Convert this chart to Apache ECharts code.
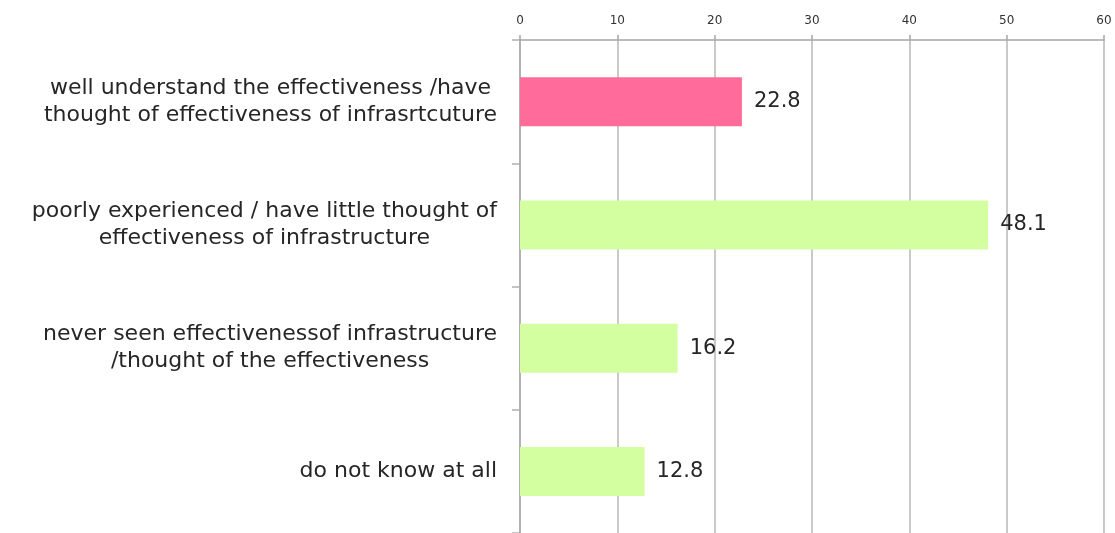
<!DOCTYPE html>
<html>
<head>
<meta charset="utf-8">
<script src="https://cdn.jsdelivr.net/npm/echarts@6/dist/echarts.min.js"></script>
<style>
html,body{margin:0;padding:0;background:#fff;}
#chart{width:1115px;height:533px;}
</style>
</head>
<body>
<div id="chart"></div>
<script>
const categories = [
  "well understand the effectiveness /have\nthought of effectiveness of infrasrtcuture",
  "poorly experienced / have little thought of\neffectiveness of infrastructure",
  "never seen effectivenessof infrastructure\n/thought of the effectiveness",
  "do not know at all"
];
const values = [22.8, 48.1, 16.2, 12.8];
const xTicks = [0, 10, 20, 30, 40, 50, 60];

const PINK = '#FF6B9B';
const GREEN = '#D3FFA0';

const chart = echarts.init(document.getElementById('chart'));
chart.setOption({
  animation: false,
  grid: { left: 520, right: 11, top: 40, bottom: -3, containLabel: false },
  xAxis: {
    type: 'value',
    position: 'top',
    min: xTicks[0],
    max: xTicks[xTicks.length - 1],
    interval: 10,
    axisLine: { show: true, lineStyle: { color: '#a6a6a6', width: 1.5 } },
    axisTick: { show: true, length: 5, lineStyle: { color: '#a6a6a6', width: 1.5 } },
    axisLabel: { color: '#333', fontSize: 12, fontFamily: 'DejaVu Sans', margin: 13 },
    splitLine: { show: true, lineStyle: { color: '#c4c4c4', width: 1.8 } }
  },
  yAxis: {
    type: 'category',
    inverse: true,
    data: categories,
    axisLine: { show: true, lineStyle: { color: '#b0b0b0', width: 1.8 } },
    axisTick: { show: true, length: 8, lineStyle: { color: '#b0b0b0', width: 1.5 } },
    axisLabel: {
      margin: 23,
      formatter: function (v) { return '{c|' + v.split('\n').join('}\n{c|') + '}'; },
      rich: {
        c: { align: 'center', fontSize: 22, fontFamily: 'DejaVu Sans', color: '#262626', lineHeight: 27 }
      }
    }
  },
  series: [{
    type: 'bar',
    data: values,
    barWidth: 49,
    itemStyle: { color: function (p) { return p.dataIndex === 0 ? PINK : GREEN; } },
    label: {
      show: true,
      position: 'right',
      distance: 12,
      fontSize: 21,
      fontFamily: 'DejaVu Sans',
      color: '#262626'
    }
  }]
});
</script>
</body>
</html>
